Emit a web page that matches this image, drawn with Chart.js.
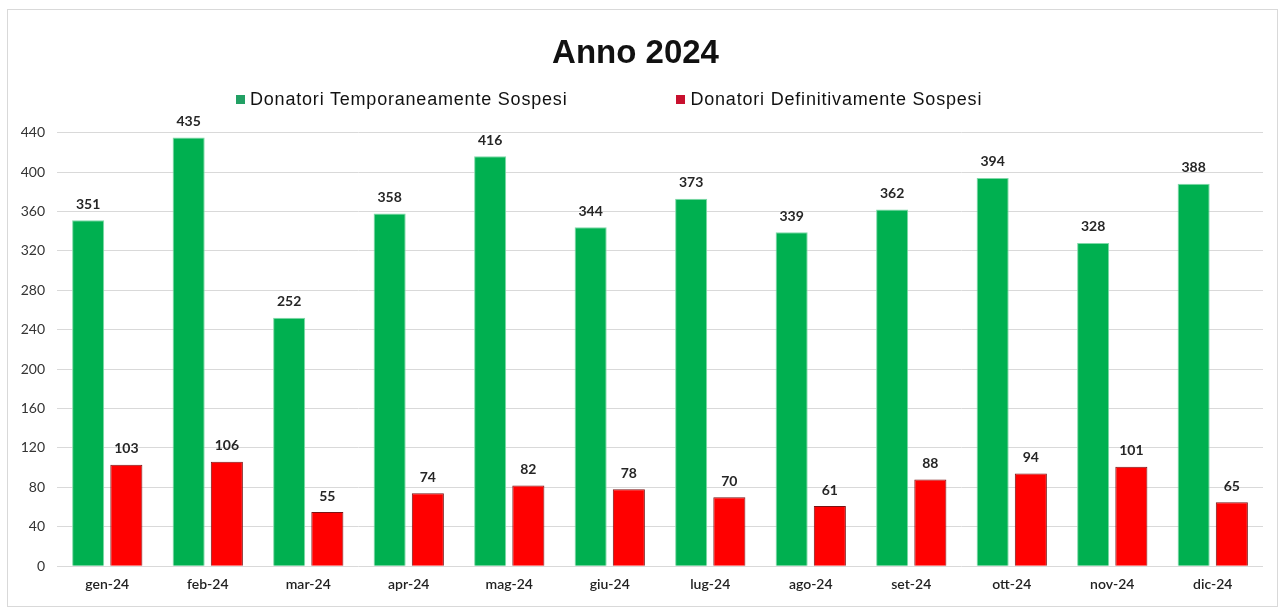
<!DOCTYPE html>
<html>
<head>
<meta charset="utf-8">
<script src="https://cdn.jsdelivr.net/npm/chart.js@4.4.1/dist/chart.umd.min.js"></script>
<style>
  body { margin: 0; background: #fff; }
  #box { position: absolute; left: 7px; top: 9px; width: 1269px; height: 596px; border: 1px solid #d9d9d9; }
  #legend { position: absolute; left: 228px; top: 79px; display: flex; gap: 109px; font-family: "Liberation Sans", Arial, sans-serif; font-size: 18px; letter-spacing: 0.8px; color: #111; }
  .item { display: flex; align-items: center; }
  .mark { width: 9px; height: 9px; margin-right: 5px; box-sizing: border-box; }
</style>
</head>
<body>
<div id="box">
  <canvas id="chart" width="1269" height="596"></canvas>
  <div id="legend"></div>
</div>
<script>
// Data
const months = ['gen-24', 'feb-24', 'mar-24', 'apr-24', 'mag-24', 'giu-24', 'lug-24', 'ago-24', 'set-24', 'ott-24', 'nov-24', 'dic-24'];
const temporanei = [351, 435, 252, 358, 416, 344, 373, 339, 362, 394, 328, 388];
const definitivi = [103, 106, 55, 74, 82, 78, 70, 61, 88, 94, 101, 65];
const seriesNames = ['Donatori Temporaneamente Sospesi', 'Donatori Definitivamente Sospesi'];
const seriesColors = ['#00b050', '#ff0000'];
const seriesBorders = ['#7fd9a8', '#7a1414'];
const legendColors = ['#22a064', '#c8102e'];

// Draw the value above each bar
const valueLabels = {
    id: 'valueLabels',
    afterDatasetsDraw(chart) {
        const ctx = chart.ctx;
        ctx.save();
        ctx.font = 'bold 14px Lato, sans-serif';
        ctx.fillStyle = '#262626';
        ctx.textAlign = 'center';
        ctx.textBaseline = 'bottom';
        chart.data.datasets.forEach(function(ds, i) {
            chart.getDatasetMeta(i).data.forEach(function(bar, j) {
                ctx.fillText(ds.data[j], bar.x, bar.y - 9);
            });
        });
        ctx.restore();
    }
};

const chart = new Chart(document.getElementById('chart'), {
    type: 'bar',
    data: {
        labels: months,
        datasets: [
            {
                label: seriesNames[0],
                data: temporanei,
                backgroundColor: seriesColors[0],
                borderColor: seriesBorders[0],
                borderWidth: 1
            },
            {
                label: seriesNames[1],
                data: definitivi,
                backgroundColor: seriesColors[1],
                borderColor: seriesBorders[1],
                borderWidth: 1
            }
        ]
    },
    options: {
        responsive: false,
        animation: false,
        events: [],
        categoryPercentage: 0.76,
        barPercentage: 0.84,
        layout: { padding: { left: 0, right: 14, top: 0, bottom: 3 } },
        plugins: {
            legend: { display: false },
            tooltip: { enabled: false },
            title: {
                display: true,
                text: 'Anno 2024',
                color: '#111',
                font: { family: '"Liberation Sans", Arial, sans-serif', size: 33, weight: 'bold' },
                padding: { top: 24, bottom: 59 }
            }
        },
        scales: {
            x: {
                grid: { display: false, drawTicks: false },
                border: { display: false },
                ticks: { color: '#222', padding: 10, font: { family: 'Lato, sans-serif', size: 14, weight: '600' } }
            },
            y: {
                min: 0,
                max: 440,
                afterFit: function(scale) { scale.width = 49; },
                grid: { color: '#d9d9d9', drawTicks: false },
                border: { display: false },
                ticks: { stepSize: 40, color: '#333', padding: 12, font: { family: 'Lato, sans-serif', size: 14 } }
            }
        }
    },
    plugins: [valueLabels]
});

// HTML legend built from the series
const legendEl = document.getElementById('legend');
seriesNames.forEach(function(name, i) {
    const item = document.createElement('div');
    item.className = 'item';
    const mark = document.createElement('span');
    mark.className = 'mark';
    mark.style.background = legendColors[i];
    const text = document.createElement('span');
    text.textContent = name;
    item.appendChild(mark);
    item.appendChild(text);
    legendEl.appendChild(item);
});
</script>
</body>
</html>
